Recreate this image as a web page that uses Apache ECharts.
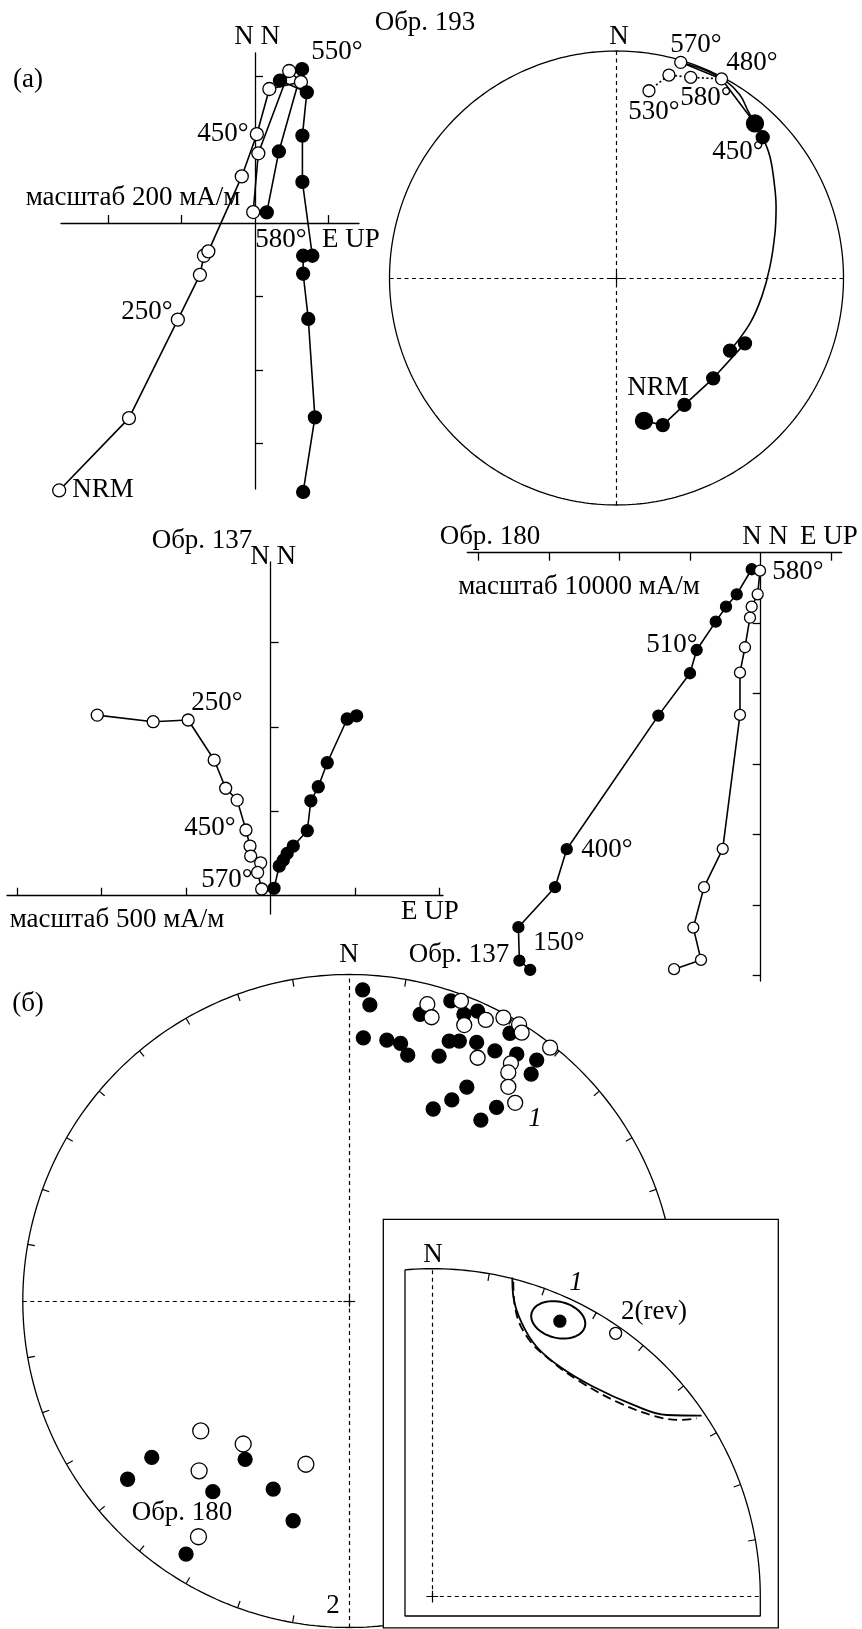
<!DOCTYPE html>
<html><head><meta charset="utf-8">
<script src="https://cdn.jsdelivr.net/npm/echarts@6/dist/echarts.min.js"></script>
<style>html,body{margin:0;padding:0;background:#fff}#c{width:862px;height:1629px}</style>
</head><body><div id="c"></div>
<script>
// ===================== DATA =====================
// Обр. 193 – Zijderveld diagram, mA/m, points [E or UP, N], NRM first
const z193Open   = [[-533,-728],[-343,-531],[-210,-263],[-150,-141],[-139,-89],[-127,-77],[-36,127],[5,242],[39,365],[125,384],[93,414],[9,190],[-5,30]];
const z193Filled = [[131,-732],[163,-529],[145,-261],[131,-138],[131,-89],[156,-89],[129,112],[129,238],[141,356],[68,388],[128,419],[65,195],[32,29]];
const z193TicksX = [-400,-200,200];
const z193TicksY = [-600,-400,-200,200,400];

// Обр. 137 – Zijderveld diagram, mA/m
const z137Open   = [[-1026,1069],[-695,1030],[-488,1040],[-334,803],[-266,636],[-198,566],[-146,389],[-122,294],[-118,235],[-59,195],[-77,138],[-53,40]];
const z137Filled = [[509,1065],[453,1046],[335,787],[282,645],[238,562],[217,385],[134,294],[98,251],[75,211],[51,176],[20,44]];
const z137TicksX = [-1500,-1000,-500,500,1000];
const z137TicksY = [500,1000,1500];

// Обр. 180 – Zijderveld diagram, mA/m
const z180Filled = [[-32700,-59170],[-34230,-57850],[-34370,-53120],[-29170,-47450],[-27510,-42060],[-14520,-23110],[-10030,-17100],[-9080,-13800],[-6380,-9780],[-4920,-7660],[-3400,-5900],[-1280,-2350]];
const z180Open   = [[-12290,-59070],[-8470,-57760],[-9560,-53180],[-8040,-47450],[-5390,-42020],[-2940,-23010],[-2940,-17020],[-2230,-13410],[-1520,-9220],[-1280,-7660],[-430,-5900],[-100,-2550]];
const z180TicksX = [-40000,-30000,-20000,-10000,10000];
const z180TicksY = [-60000,-50000,-40000,-30000,-20000,-10000];

// Обр. 193 – stereonet, equal-area projected [east, north] on unit circle
const st193LowerPath = [[0.121,-0.629],[0.204,-0.648],[0.299,-0.559],[0.426,-0.442],[0.566,-0.288]];
const st193ArcPath   = [[0.610,0.681],[0.644,0.620],[0.676,0.534],[0.695,0.417],[0.703,0.314],[0.698,0.197],[0.676,0.050],[0.640,-0.082],[0.588,-0.200],[0.500,-0.320]];
const st193TopPath   = [[0.283,0.950],[0.463,0.877],[0.610,0.681]];
const st193TopCurve  = [[0.283,0.950],[0.397,0.913],[0.485,0.865],[0.544,0.806],[0.581,0.733],[0.610,0.681]];
const st193DotPath   = [[0.143,0.825],[0.231,0.894],[0.327,0.884],[0.463,0.877]];
const st193Filled    = [[0.204,-0.648],[0.299,-0.559],[0.426,-0.442],[0.566,-0.288],[0.500,-0.320],[0.644,0.620]];
const st193FilledBig = [[0.121,-0.629],[0.610,0.681]];
const st193Open      = [[0.143,0.825],[0.231,0.894],[0.327,0.884],[0.463,0.877],[0.283,0.950]];

// (б) – stereonet of sample directions, projected [east, north]
const stBFilled = [[0.041,0.953],[0.063,0.907],[0.043,0.806],[0.115,0.799],[0.157,0.789],[0.179,0.753],[0.217,0.878],[0.311,0.919],[0.351,0.878],[0.393,0.888],[0.306,0.796],[0.337,0.796],[0.390,0.792],[0.275,0.750],[0.446,0.766],[0.492,0.820],[0.513,0.756],[0.574,0.738],[0.557,0.695],[0.360,0.655],[0.314,0.616],[0.257,0.588],[0.451,0.593],[0.403,0.554]];
const stBOpen   = [[0.239,0.909],[0.252,0.869],[0.342,0.919],[0.352,0.845],[0.418,0.861],[0.472,0.868],[0.520,0.847],[0.528,0.822],[0.615,0.776],[0.393,0.745],[0.495,0.728],[0.487,0.700],[0.487,0.656],[0.508,0.607]];
const st180Open   = [[-0.455,-0.398],[-0.325,-0.438],[-0.460,-0.520],[-0.133,-0.500],[-0.462,-0.722]];
const st180Filled = [[-0.605,-0.479],[-0.679,-0.546],[-0.319,-0.485],[-0.418,-0.584],[-0.233,-0.576],[-0.172,-0.673],[-0.500,-0.775]];

// Inset – mean directions, ellipse and circles (NE quadrant, projected)
const inMean1 = [[0.389,0.840]];
const inRev2  = [[0.559,0.803]];
const inEllipseCenter = [0.384,0.844];
const inEllipseAxes   = [0.084,0.055];
const inEllipseTilt   = -14;
const inCircleSolid  = [[0.244,0.973],[0.247,0.915],[0.273,0.834],[0.318,0.762],[0.389,0.701],[0.491,0.640],[0.613,0.585],[0.715,0.554],[0.821,0.552]];
const inCircleDashed = [[0.247,0.960],[0.252,0.884],[0.288,0.793],[0.359,0.722],[0.450,0.656],[0.572,0.590],[0.684,0.549],[0.755,0.539],[0.806,0.544]];
const tickAnglesB = [10,20,30,40,50,60,70,80,100,110,120,130,140,150,160,170,190,200,210,220,230,240,250,260,280,290,300,310,320,330,340,350];
const tickAnglesInset = [10,20,30,40,50,60,70,80];

// ===================== LAYOUT =====================
const FONT = '"Liberation Serif","Times New Roman",serif';
const FS = 27;
const grids = [
  {left:61, top:53, width:298, height:436},
  {left:389.5, top:51, width:454, height:454},
  {left:7, top:562, width:436, height:352},
  {left:467.3, top:552.7, width:374.4, height:428.3},
  {left:22.8, top:974.5, width:653, height:653},
  {left:405, top:1268.7, width:355.3, height:347.3}
].map(g => Object.assign({outerBoundsMode:'none', containLabel:false, show:false}, g));
const ranges = [
  {x:[-528,283], y:[-724,463]},
  {x:[-1,1], y:[-1,1]},
  {x:[-1560,1020], y:[-108,1975]},
  {x:[-41617,11489], y:[-60752,0]},
  {x:[-1,1], y:[-1,1]},
  {x:[-0.0832,1.0], y:[-0.0589,1.0]}
];
const axLine = {color:'#000', width:1.3};
function hiddenAxis(i, r){ return {gridIndex:i, type:'value', min:r[0], max:r[1], show:false}; }
function zAxis(i, r, ticks, pos, inside, onZero){
  return {gridIndex:i, type:'value', min:r[0], max:r[1], position:pos,
    axisLine:{show:true, onZero:onZero, lineStyle:axLine},
    axisTick:{show:true, inside:inside, length:8, customValues:ticks, lineStyle:axLine},
    axisLabel:{show:false}, splitLine:{show:false}};
}
const xAxes = [
  zAxis(0, ranges[0].x, z193TicksX, 'bottom', true, true),
  hiddenAxis(1, ranges[1].x),
  zAxis(2, ranges[2].x, z137TicksX, 'bottom', true, true),
  zAxis(3, ranges[3].x, z180TicksX, 'top', true, false),
  hiddenAxis(4, ranges[4].x),
  hiddenAxis(5, ranges[5].x)
];
const yAxes = [
  zAxis(0, ranges[0].y, z193TicksY, 'left', true, true),
  hiddenAxis(1, ranges[1].y),
  zAxis(2, ranges[2].y, z137TicksY, 'left', true, true),
  zAxis(3, ranges[3].y, z180TicksY, 'left', false, true),
  hiddenAxis(4, ranges[4].y),
  hiddenAxis(5, ranges[5].y)
];

// ===================== SERIES HELPERS =====================
const series = [];
function path(g, data, o){
  o = o || {};
  series.push({type:'line', xAxisIndex:g, yAxisIndex:g, data:data, symbol:'none',
    smooth:o.smooth||false, clip:false, silent:true, z:o.z||3,
    lineStyle:{color:'#000', width:o.w||1.5, type:o.dash||'solid'}});
}
function marks(g, data, filled, size, z){
  series.push({type:'scatter', xAxisIndex:g, yAxisIndex:g, data:data, symbol:'circle',
    symbolSize:size, clip:false, silent:true, z:z||5,
    itemStyle:{color:filled?'#000':'#fff', borderColor:'#000', borderWidth:1.3, opacity:1}});
}
function zLine(g, data, filled, size){
  series.push({type:'line', xAxisIndex:g, yAxisIndex:g, data:data, symbol:'circle',
    symbolSize:size, showSymbol:true, showAllSymbol:true, clip:false, silent:true, z:4,
    lineStyle:{color:'#000', width:1.6},
    itemStyle:{color:filled?'#fff':'#000', borderColor:'#000', borderWidth:1.3}});
}
function segs(g, list, o){
  o = o || {};
  series.push({type:'lines', coordinateSystem:'cartesian2d', xAxisIndex:g, yAxisIndex:g,
    silent:true, z:o.z||3, data:list.map(c=>({coords:c})),
    lineStyle:{color:'#000', width:o.w||1.2, opacity:1, type:o.dash||'solid', curveness:0}});
}
function circlePts(a0, a1, step){
  const out = [];
  for (let a=a0; a<=a1+1e-9; a+=step){ const r=a*Math.PI/180; out.push([Math.sin(r), Math.cos(r)]); }
  return out;
}
function tickSegs(angles, len){
  return angles.map(a=>{ const r=a*Math.PI/180, s=Math.sin(r), c=Math.cos(r);
    return [[s,c],[s*(1-len),c*(1-len)]]; });
}
function cross(d){ return [[[-d,0],[d,0]],[[0,-d],[0,d]]]; }

// ---- Обр. 193 Zijderveld
zLine(0, z193Open, true, 13);
zLine(0, z193Filled, false, 13);
// ---- Обр. 137 Zijderveld
zLine(2, z137Open, true, 12);
zLine(2, z137Filled, false, 12);
// ---- Обр. 180 Zijderveld
zLine(3, z180Filled, false, 11);
zLine(3, z180Open, true, 11);

// ---- Обр. 193 stereonet
path(1, circlePts(0,360,1), {w:1.3});
segs(1, [[[-1,0],[1,0]],[[0,-1],[0,1]]], {dash:[4,3.5], w:1.2});
segs(1, cross(0.025), {w:1.2});
path(1, st193LowerPath, {w:1.6});
path(1, st193ArcPath, {w:1.6, smooth:0.4});
path(1, st193TopPath, {w:1.6});
path(1, st193TopCurve, {w:1.6, smooth:0.4});
path(1, st193DotPath, {w:1.7, dash:[2,2.5]});
marks(1, st193Filled, true, 13);
marks(1, st193FilledBig, true, 17);
marks(1, st193Open, false, 12);

// ---- (б) big stereonet
path(4, circlePts(0,360,1), {w:1.3});
segs(4, tickSegs(tickAnglesB, 0.022), {w:1.2});
segs(4, [[[0,-1],[0,1]],[[-1,0],[0,0]]], {dash:[4,3.5], w:1.2});
segs(4, cross(0.018), {w:1.2});
marks(4, stBFilled, true, 14);
marks(4, stBOpen, false, 15, 6);
marks(4, st180Filled, true, 14);
marks(4, st180Open, false, 16);

// ---- inset
const ZI = 110;
const xl = ranges[5].x[0], yb = ranges[5].y[0];
const a0 = Math.asin(xl)*180/Math.PI;
const frame = [[xl, Math.sqrt(1-xl*xl)]].concat(circlePts(Math.ceil(a0), 90, 1)).concat([[1,yb],[xl,yb],[xl,Math.sqrt(1-xl*xl)]]);
path(5, frame, {w:1.3, z:ZI});
segs(5, tickSegs(tickAnglesInset, 0.022), {w:1.2, z:ZI});
segs(5, [[[0,0],[0,1]],[[0,0],[1,0]]], {dash:[4,3.5], w:1.2, z:ZI});
segs(5, cross(0.018), {w:1.2, z:ZI});
path(5, inCircleSolid, {w:1.8, smooth:0.4, z:ZI});
path(5, inCircleDashed, {w:1.8, smooth:0.4, dash:[9,5], z:ZI});
(function(){
  const t = inEllipseTilt*Math.PI/180, e = [];
  for (let k=0; k<=72; k++){
    const u = k/72*2*Math.PI;
    const x = inEllipseAxes[0]*Math.cos(u), y = inEllipseAxes[1]*Math.sin(u);
    e.push([inEllipseCenter[0] + x*Math.cos(t) - y*Math.sin(t), inEllipseCenter[1] + x*Math.sin(t) + y*Math.cos(t)]);
  }
  path(5, e, {w:2, z:ZI});
})();
marks(5, inMean1, true, 12, ZI+2);
marks(5, inRev2, false, 12, ZI+2);

// ===================== TEXT =====================
const texts = [
  ['(a)',28,80],['N N',257,37],['550°',337,52],['Обр. 193',425,23],['450°',223,134],
  ['масштаб 200 мА/м',133,198],['580°',281,240],['E UP',351,240],['250°',147,312],['NRM',103,490],
  ['N',619,37],['570°',696,45],['480°',752,63],['530°',654,112],['580°',706,98],['450°',738,152],['NRM',658,388],
  ['Обр. 137',202,541],['N N',273,557],['250°',217,703],['450°',210,828],['570°',227,880],
  ['масштаб 500 мА/м',117,920],['E UP',430,912],
  ['Обр. 180',490,537],['N N',765,537],['E UP',829,537],['масштаб 10000 мА/м',579,587],
  ['580°',798,572],['510°',672,645],['400°',607,850],['150°',559,943],
  ['Обр. 137',459,955],['N',349,955],['(б)',28,1004],['1',535,1119,'italic'],
  ['Обр. 180',182,1513],['2',333,1606],
  ['N',433,1255],['1',576,1283,'italic'],['2(rev)',654,1312]
];
const graphic = [{type:'rect', z:100, shape:{x:383.3, y:1219.3, width:395, height:408.5},
  style:{fill:'#fff', stroke:'#000', lineWidth:1.3}}];
texts.forEach(t=>{
  graphic.push({type:'text', z:120, x:t[1], y:t[2],
    style:{text:t[0], font:(t[3]?t[3]+' ':'')+FS+'px '+FONT, fill:'#000',
      textAlign:'center', align:'center', textVerticalAlign:'middle', verticalAlign:'middle'}});
});

const chart = echarts.init(document.getElementById('c'), null, {renderer:'canvas', width:862, height:1629});
chart.setOption({animation:false, backgroundColor:'#fff', grid:grids, xAxis:xAxes, yAxis:yAxes, series:series, graphic:graphic});
</script></body></html>
